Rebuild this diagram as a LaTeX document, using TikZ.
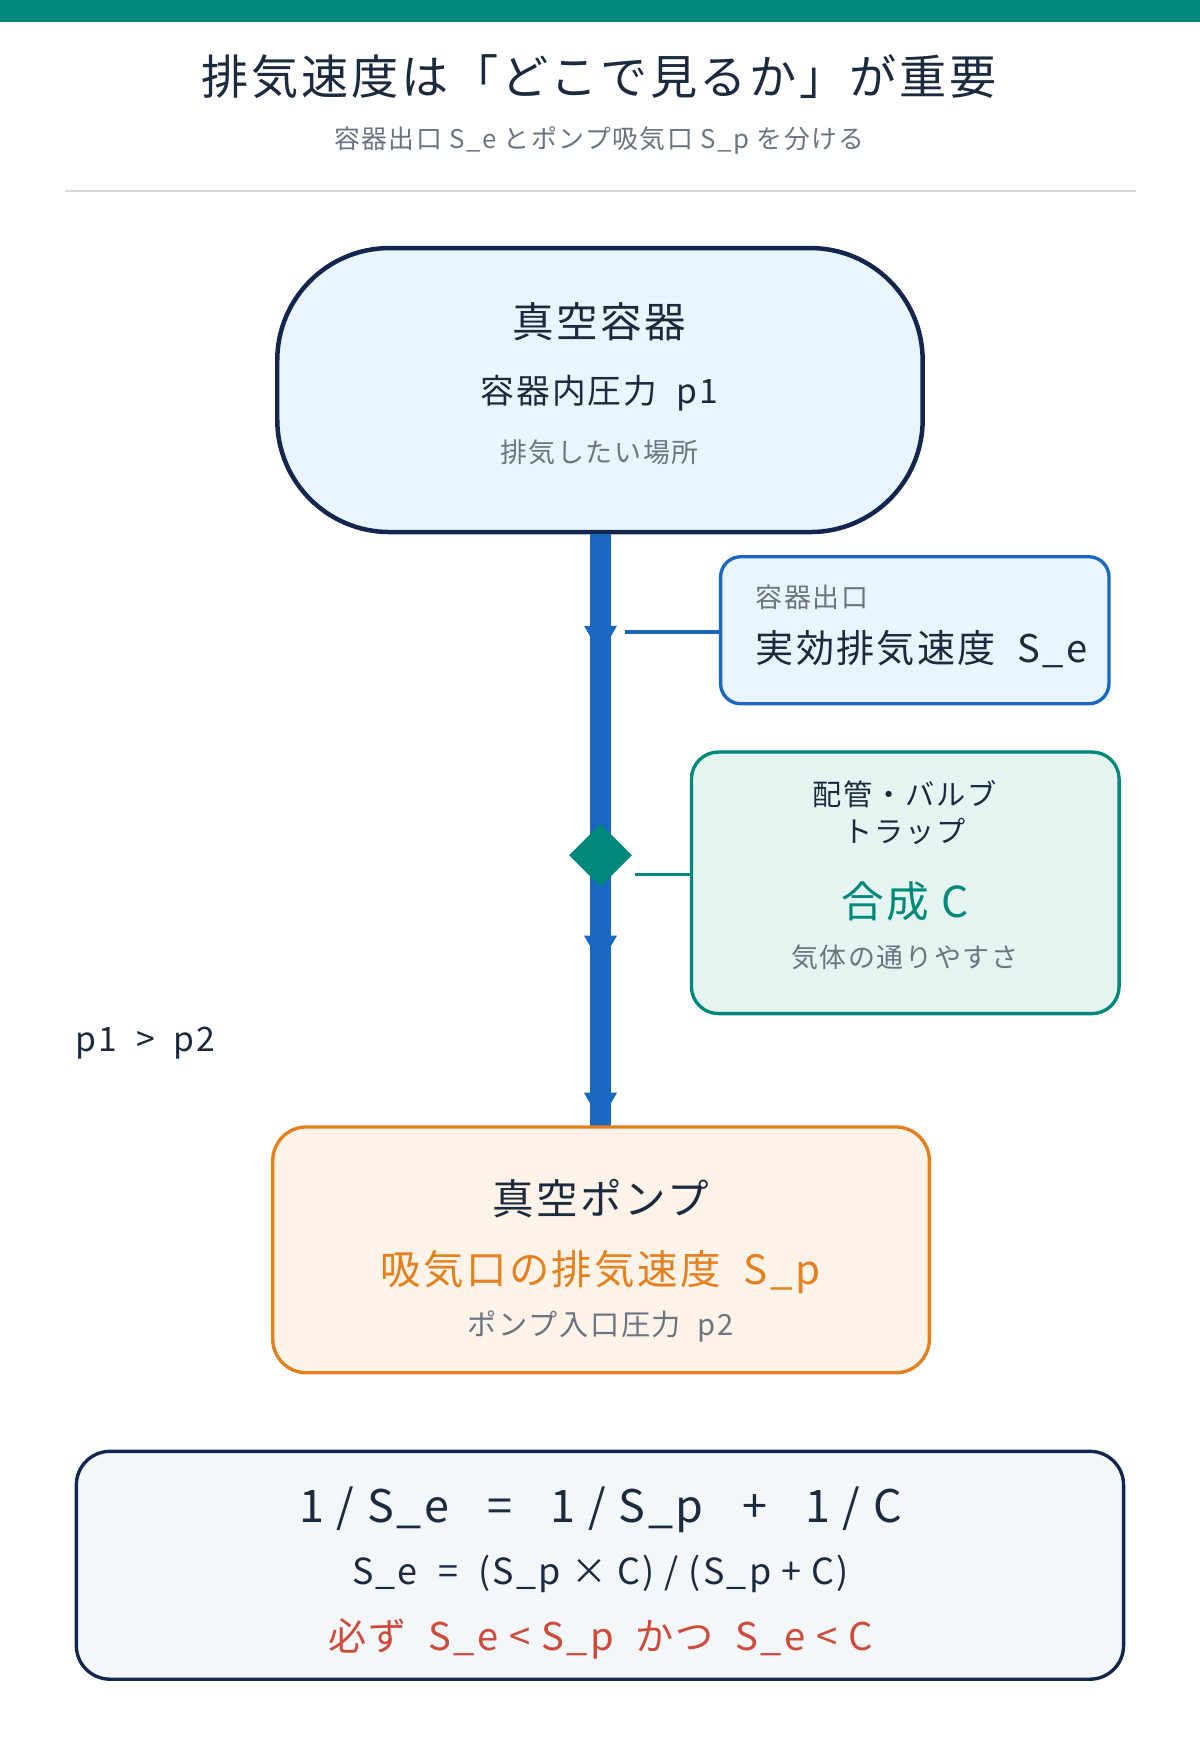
\documentclass[tikz,border=0pt]{standalone}
\usepackage{fontspec}
\setmainfont{Noto Sans CJK JP}[LetterSpace=6]
\usetikzlibrary{shapes.geometric}
\definecolor{teal}{HTML}{00897B}
\definecolor{navy}{HTML}{13264D}
\definecolor{blu}{HTML}{1A68C2}
\definecolor{org}{HTML}{E5801F}
\definecolor{redd}{HTML}{D04A3A}
\definecolor{gry}{HTML}{6B7480}
\definecolor{txt}{HTML}{1C2A40}
\definecolor{lb}{HTML}{EAF4FC}
\definecolor{lt}{HTML}{E6F4F1}
\definecolor{lo}{HTML}{FEF3E8}
\definecolor{lf}{HTML}{F3F7FA}
\newcommand{\fs}[1]{\fontsize{#1pt}{#1pt}\selectfont}
\tikzset{x=1pt,y=-1pt,
 t/.style={text=txt,inner sep=0,anchor=center},
 box/.style={draw,line width=3pt},
 arr/.style={fill=blu,draw=none,regular polygon,regular polygon sides=3,shape border rotate=180,minimum size=34pt,inner sep=0}}
\begin{document}
\begin{tikzpicture}
\useasboundingbox (0,0) rectangle (1069,1568);
\fill[white] (0,0) rectangle (1069,1568);
\fill[teal] (0,0) rectangle (1069,20);
\node[t] (title) at (534,68) {\fs{42}排気速度は「どこで見るか」が重要};
\node[t,text=gry] (sub) at (534,125) {\fs{23}容器出口 S\_e とポンプ吸気口 S\_p を分ける};
\draw[line width=1.5pt,black!15] (58,170) -- (1012,170);
% vessel
\draw[box,draw=navy,fill=lb,line width=4pt,rounded corners=100pt] (247,221) rectangle (822,474);
\node[t] (v1) at (534,287) {\fs{37}真空容器};
\node[t] (v2) at (534,350) {\fs{30}容器内圧力\ \ p1};
\node[t,text=gry] (v3) at (534,403) {\fs{24}排気したい場所};
% main flow
\coordinate (ftop) at (535,476);
\coordinate (fbot) at (535,1003);
\draw[blu,line width=18pt] (ftop) -- (fbot);
\node[arr] (a1) at (535,566) {};
\node[arr] (a2) at (535,842) {};
\node[arr] (a3) at (535,982) {};
\node[diamond,fill=teal,minimum size=56pt,inner sep=0] (dm) at (535,762) {};
% Se box
\draw[box,draw=blu,fill=lb,rounded corners=18pt] (642,496) rectangle (988,627);
\node[t,text=gry,anchor=west] (s1) at (673,532) {\fs{24}容器出口};
\node[t,anchor=west] (s2) at (673,578) {\fs{34}実効排気速度\ \ S\_e};
\coordinate (sL) at (642,563);
\coordinate (sR) at (557,563);
\draw[blu,line width=3pt] (sR) -- (sL);
% C box
\draw[box,draw=teal,fill=lt,rounded corners=24pt] (616,670) rectangle (997,903);
\node[t,align=center] (c1) at (806,724) {\fs{26}配管・バルブ\\[8pt]\fs{26}トラップ};
\node[t,text=teal] (c2) at (806,803) {\fs{38}合成 C};
\node[t,text=gry] (c3) at (806,853) {\fs{24}気体の通りやすさ};
\coordinate (cL) at (616,779);
\coordinate (cR) at (566,779);
\draw[teal,line width=3pt] (cR) -- (cL);
\node[t,anchor=west] (pp) at (67,929) {\fs{30}p1 \ > \ p2};
% pump
\draw[box,draw=org,fill=lo,rounded corners=30pt] (243,1004) rectangle (828,1223);
\node[t] (p1) at (535,1068) {\fs{37}真空ポンプ};
\node[t,text=org] (p2) at (535,1133) {\fs{36}吸気口の排気速度\ \ S\_p};
\node[t,text=gry] (p3) at (535,1182) {\fs{26}ポンプ入口圧力\ \ p2};
% formula
\draw[box,draw=navy,fill=lf,rounded corners=30pt] (68,1293) rectangle (1001,1496);
\node[t] (f1) at (535,1345) {\fs{40}1 / S\_e \ \ = \ \ 1 / S\_p \ \ + \ \ 1 / C};
\node[t] (f2) at (535,1402) {\fs{32}S\_e \ = \ (S\_p × C) / (S\_p + C)};
\node[t,text=redd] (f3) at (535,1460) {\fs{34}必ず\ \ S\_e < S\_p\ \ かつ\ \ S\_e < C};
\end{tikzpicture}
\end{document}
